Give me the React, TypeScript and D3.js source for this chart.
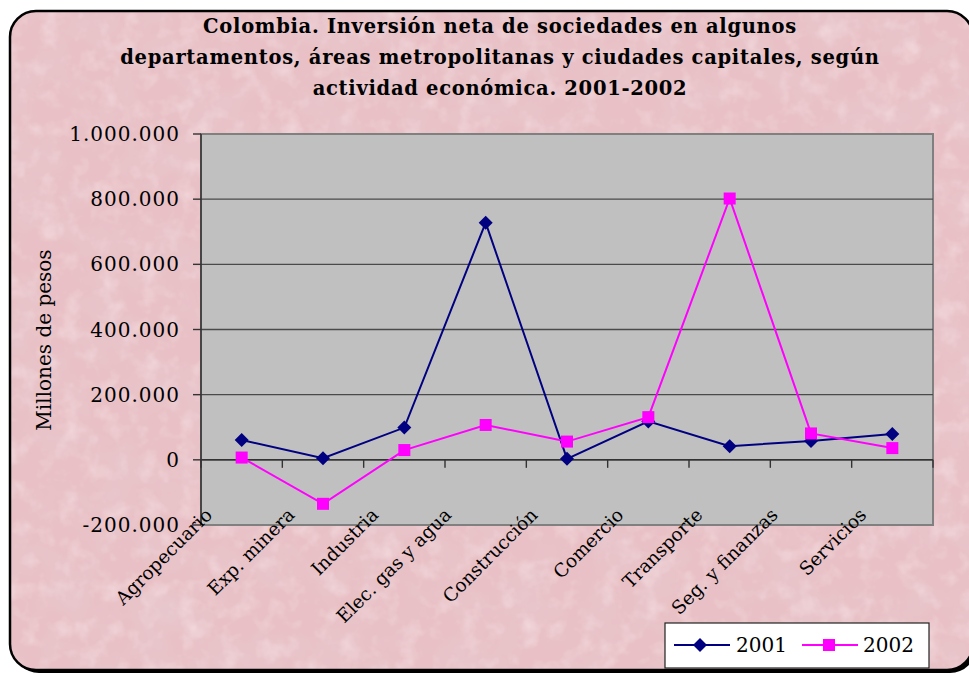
import React from "react";
import * as d3 from "d3";

const categories = [
  "Agropecuario",
  "Exp. minera",
  "Industria",
  "Elec. gas y agua",
  "Construcción",
  "Comercio",
  "Transporte",
  "Seg. y finanzas",
  "Servicios",
];
const series2001 = [61000, 5000, 99000, 728000, 3000, 118000, 42000, 58000, 79000];
const series2002 = [7000, -135000, 30000, 107000, 56000, 131000, 802000, 81000, 36000];
const yTicks = [-200000, 0, 200000, 400000, 600000, 800000, 1000000];
const titleLines = [
  "Colombia. Inversión neta de sociedades en algunos",
  "departamentos, áreas metropolitanas y ciudades capitales, según",
  "actividad económica. 2001-2002",
];
const yAxisTitle = "Millones de pesos";
const seriesNames = ["2001", "2002"];

const W = 969;
const H = 675;
const plot = { left: 201, right: 933, top: 134, bottom: 525 };
const FONT = "'DejaVu Serif', serif";

const fmt = (v: number) => d3.format(",")(v).replace(/,/g, ".").replace("−", "-");

export default function App() {
  const x = d3
    .scaleBand<string>()
    .domain(categories)
    .range([plot.left, plot.right])
    .paddingInner(0)
    .paddingOuter(0);
  const y = d3.scaleLinear().domain([-200000, 1000000]).range([plot.bottom, plot.top]);
  const cx = (c: string) => (x(c) as number) + x.bandwidth() / 2;
  const y0 = y(0);

  const line = d3
    .line<number>()
    .x((_, i) => cx(categories[i]))
    .y((d) => y(d));

  const diamond = (px: number, py: number, r: number) =>
    `M${px},${py - r}L${px + r},${py}L${px},${py + r}L${px - r},${py}Z`;

  const boundaries = categories.map((c) => x(c) as number).concat([plot.right]);

  return (
    <svg
      width={W}
      height={H}
      style={{ position: "absolute", left: 0, top: 0, display: "block" }}
      xmlns="http://www.w3.org/2000/svg"
    >
      <defs>
        <filter id="tex" x="0" y="0" width="100%" height="100%">
          <feTurbulence type="fractalNoise" baseFrequency="0.022" numOctaves="4" seed="7" />
          <feColorMatrix
            type="matrix"
            values="0 0 0 0 0.8  0 0 0 0 0.6  0 0 0 0 0.64  1.2 0 0 0 -0.45"
          />
        </filter>
        <filter id="tex2" x="0" y="0" width="100%" height="100%">
          <feTurbulence type="fractalNoise" baseFrequency="0.05" numOctaves="3" seed="13" />
          <feColorMatrix
            type="matrix"
            values="0 0 0 0 0.97  0 0 0 0 0.84  0 0 0 0 0.86  1.0 0 0 0 -0.48"
          />
        </filter>
        <clipPath id="frameClip">
          <rect x={10} y={11} width={963} height={659} rx={26} ry={26} />
        </clipPath>
      </defs>

      <rect x={0} y={0} width={W} height={H} fill="#ffffff" />
      <rect x={13} y={14} width={963} height={659} rx={26} ry={26} fill="#000" />
      <rect x={10} y={11} width={963} height={659} rx={26} ry={26} fill="#e8c0c5" />
      <g clipPath="url(#frameClip)">
        <rect x={10} y={11} width={963} height={659} filter="url(#tex)" />
        <rect x={10} y={11} width={963} height={659} filter="url(#tex2)" />
      </g>
      <rect
        x={10}
        y={11}
        width={963}
        height={659}
        rx={26}
        ry={26}
        fill="none"
        stroke="#000"
        strokeWidth={2.5}
      />

      {titleLines.map((t, i) => (
        <text
          key={i}
          x={500}
          y={33 + i * 31}
          textAnchor="middle"
          fontFamily={FONT}
          fontWeight="bold"
          fontSize={19.5}
          letterSpacing={0.7}
          fill="#000"
        >
          {t}
        </text>
      ))}

      <rect
        x={plot.left}
        y={plot.top}
        width={plot.right - plot.left}
        height={plot.bottom - plot.top}
        fill="#c0c0c0"
        stroke="#808080"
        strokeWidth={2}
      />

      {yTicks
        .filter((t) => t !== -200000 && t !== 1000000)
        .map((t) => (
          <line
            key={t}
            x1={plot.left}
            x2={plot.right}
            y1={y(t)}
            y2={y(t)}
            stroke="#4a4a4a"
            strokeWidth={1.4}
          />
        ))}

      <line x1={plot.left} x2={plot.left} y1={plot.top} y2={plot.bottom} stroke="#333" strokeWidth={1.5} />
      {yTicks.map((t) => (
        <g key={t}>
          <line x1={plot.left - 8} x2={plot.left} y1={y(t)} y2={y(t)} stroke="#333" strokeWidth={1.4} />
          <text
            x={180}
            y={y(t) + 7}
            textAnchor="end"
            fontFamily={FONT}
            fontSize={20}
            letterSpacing={1}
            fill="#000"
          >
            {fmt(t)}
          </text>
        </g>
      ))}

      <line x1={plot.left} x2={plot.right} y1={y0} y2={y0} stroke="#333" strokeWidth={1.5} />
      {boundaries.map((b, i) => (
        <line key={i} x1={b} x2={b} y1={y0} y2={y0 + 8} stroke="#333" strokeWidth={1.4} />
      ))}

      <text
        transform={`translate(51,340) rotate(-90)`}
        textAnchor="middle"
        fontFamily={FONT}
        fontSize={20}
        fill="#000"
      >
        {yAxisTitle}
      </text>

      <path d={line(series2001) || ""} fill="none" stroke="#000080" strokeWidth={2} />
      <path d={line(series2002) || ""} fill="none" stroke="#ff00ff" strokeWidth={2} />
      {series2001.map((v, i) => (
        <path key={"a" + i} d={diamond(cx(categories[i]), y(v), 7)} fill="#000080" />
      ))}
      {series2002.map((v, i) => (
        <rect
          key={"b" + i}
          x={cx(categories[i]) - 6}
          y={y(v) - 6}
          width={12}
          height={12}
          fill="#ff00ff"
        />
      ))}

      {categories.map((c) => (
        <text
          key={c}
          transform={`translate(${cx(c) - (14 + 1.2 * c.length)},${516}) rotate(-45)`}
          textAnchor="end"
          fontFamily={FONT}
          fontSize={18.5}
          fill="#000"
        >
          {c}
        </text>
      ))}

      <rect x={665} y={623} width={264} height={45} fill="#ffffff" stroke="#222" strokeWidth={1.2} />
      <line x1={674} x2={730} y1={645} y2={645} stroke="#000080" strokeWidth={2} />
      <path d={diamond(700, 645, 7)} fill="#000080" />
      <text x={736} y={652} fontFamily={FONT} fontSize={20} fill="#000">
        {seriesNames[0]}
      </text>
      <line x1={802} x2={858} y1={645} y2={645} stroke="#ff00ff" strokeWidth={2} />
      <rect x={823} y={639} width={12} height={12} fill="#ff00ff" />
      <text x={863} y={652} fontFamily={FONT} fontSize={20} fill="#000">
        {seriesNames[1]}
      </text>
    </svg>
  );
}
